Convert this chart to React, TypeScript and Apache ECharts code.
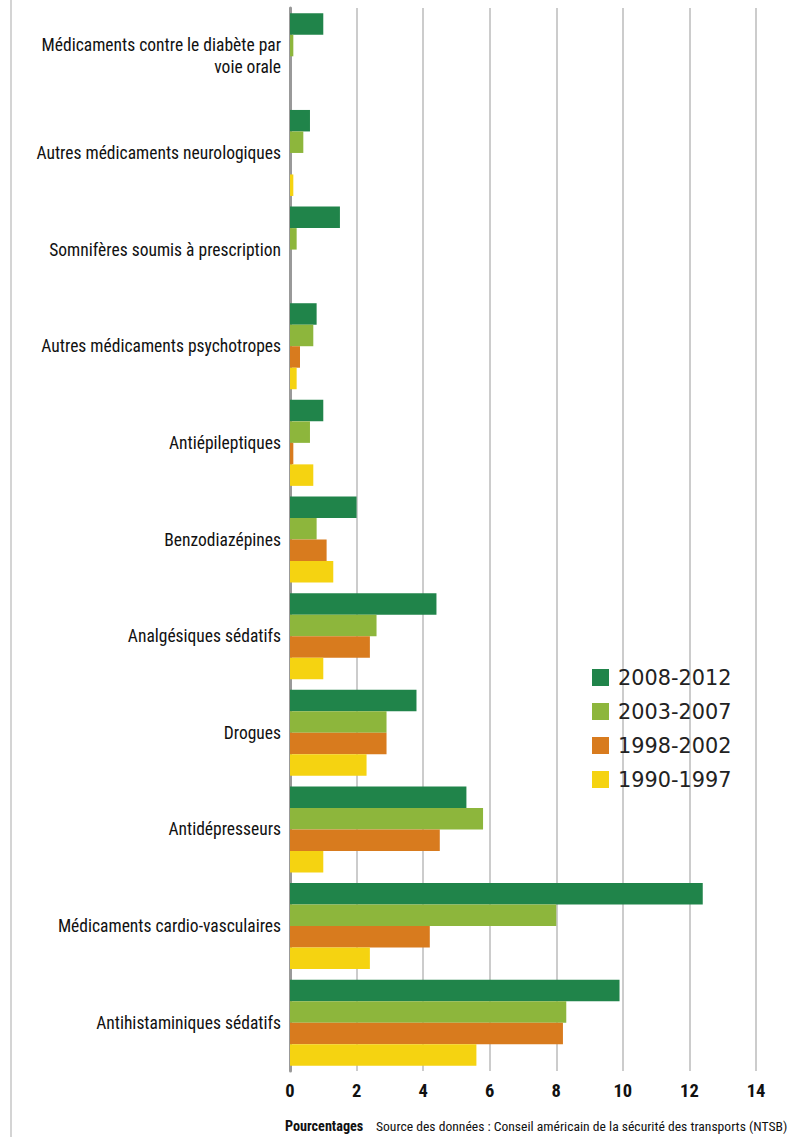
import React, { useEffect, useRef } from "react";
import * as echarts from "echarts";

const categories = [
  "Médicaments contre le diabète par\nvoie orale",
  "Autres médicaments neurologiques",
  "Somnifères soumis à prescription",
  "Autres médicaments psychotropes",
  "Antiépileptiques",
  "Benzodiazépines",
  "Analgésiques sédatifs",
  "Drogues",
  "Antidépresseurs",
  "Médicaments cardio-vasculaires",
  "Antihistaminiques sédatifs",
];

const seriesNames = ["2008-2012", "2003-2007", "1998-2002", "1990-1997"];
const v2008 = [1.0, 0.6, 1.5, 0.8, 1.0, 2.0, 4.4, 3.8, 5.3, 12.4, 9.9];
const v2003 = [0.1, 0.4, 0.2, 0.7, 0.6, 0.8, 2.6, 2.9, 5.8, 8.0, 8.3];
const v1998 = [0, 0, 0, 0.3, 0.1, 1.1, 2.4, 2.9, 4.5, 4.2, 8.2];
const v1990 = [0, 0.1, 0, 0.2, 0.7, 1.3, 1.0, 2.3, 1.0, 2.4, 5.6];
const colors = ["#20844A", "#8DB63C", "#D87B1E", "#F5D311"];

const xTicks = [0, 2, 4, 6, 8, 10, 12, 14];

const cond = "'Roboto Condensed', 'Open Sans Condensed', sans-serif";

export default function App() {
  const ref = useRef<HTMLDivElement>(null);
  useEffect(() => {
    if (!ref.current) return;
    const chart = echarts.init(ref.current, null, { renderer: "svg" });
    const values = [v2008, v2003, v1998, v1990];
    chart.setOption({
      animation: false,
      backgroundColor: "#ffffff",
      grid: { left: 290, right: 35, top: 8, bottom: 66, containLabel: false },
      legend: {
        orient: "vertical",
        left: 592,
        top: 667,
        padding: 0,
        itemWidth: 17,
        itemHeight: 17,
        itemGap: 13,
        icon: "rect",
        textStyle: {
          fontFamily: "'DejaVu Sans', sans-serif",
          fontSize: 20.8,
          color: "#222",
          padding: [0, 0, 0, 4],
        },
        data: seriesNames,
      },
      xAxis: {
        type: "value",
        min: xTicks[0],
        max: xTicks[xTicks.length - 1],
        interval: 2,
        axisLine: { show: false },
        axisTick: { show: false },
        splitLine: { show: true, lineStyle: { color: "#cccccc", width: 2 } },
        axisLabel: {
          margin: 10,
          fontFamily: cond,
          fontWeight: "bold",
          fontSize: 18.5,
          color: "#111",
        },
      },
      yAxis: {
        type: "category",
        inverse: true,
        data: categories.map((c, i) =>
          i === 0 ? { value: c, textStyle: { padding: [0, 0, 20, 0] } } : c
        ),
        axisLine: { show: true, lineStyle: { color: "#999999", width: 3 } },
        axisTick: { show: false },
        axisLabel: {
          margin: 9,
          fontFamily: cond,
          fontSize: 17.5,
          lineHeight: 22,
          color: "#111",
          align: "right",
        },
      },
      series: seriesNames.map((name, i) => ({
        name,
        type: "bar",
        data: values[i],
        barGap: "0%",
        barCategoryGap: "11%",
        itemStyle: { color: colors[i] },
      })),
      graphic: [
        {
          type: "line",
          shape: { x1: 11, y1: 0, x2: 11, y2: 1137 },
          style: { stroke: "#d4d4d4", lineWidth: 2 },
        },
        {
          type: "text",
          left: 285,
          top: 1119,
          style: { text: "Pourcentages", fontFamily: cond, fontWeight: "bold", fontSize: 14.2, fill: "#111" },
        },
        {
          type: "text",
          left: 376,
          top: 1119,
          style: {
            text: "Source des données : Conseil américain de la sécurité des transports (NTSB)",
            fontFamily: cond,
            fontSize: 13.6,
            fill: "#111",
          },
        },
      ],
    });
    return () => chart.dispose();
  }, []);
  return (
    <div
      ref={ref}
      style={{ position: "absolute", left: 0, top: 0, width: 791, height: 1137 }}
    />
  );
}
